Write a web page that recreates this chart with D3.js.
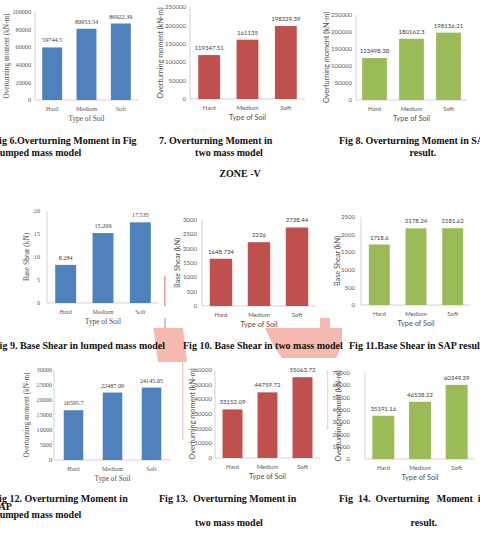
<!DOCTYPE html>
<html>
<head>
<meta charset="utf-8">
<script src="https://cdn.jsdelivr.net/npm/d3@7"></script>
<style>
  body { margin: 0; background: #fff; }
  svg { display: block; }
</style>
</head>
<body>
<svg id="page" width="480" height="533"></svg>
<script>
// categories shared by every chart
const soils = ['Hard', 'Medium', 'Soft']

// top row: overturning moment
const omLumpedIV = [59744.5, 80953.54, 86922.39]
const omTwoMassIV = [119347.51, 161135, 198229.39]
const omSapIV = [123498.38, 180162.3, 198136.21]

// zone V: base shear and overturning moment
const bsLumped = [8.284, 15.209, 17.535]
const bsTwoMass = [1648.734, 2226, 2738.44]
const bsSap = [1718.6, 2178.24, 2181.62]
const omLumpedV = [16595.7, 22487.09, 24145.05]
const omTwoMassV = [33152.09, 44759.72, 55063.72]
const omSapV = [35191.16, 46538.22, 60349.39]

const blue = '#4f81bd'
const red = '#c0504d'
const green = '#9bbb59'
const serif = '"Liberation Serif", "Times New Roman", serif'
const sans = 'Lato, "Open Sans", sans-serif'

const svg = d3.select('#page')

// faint pink watermark, mostly hidden behind the chart areas
const wm = svg.append('g').attr('fill', '#f5b9b0')
wm.append('path').attr('d', 'M152,318 L182,318 L187,362 L158,362 Z')
wm.append('path').attr('d', 'M262,318 L340,318 Q346,340 336,358 L282,358 Q268,340 262,318 Z')
wm.append('rect').attr('x', 164).attr('y', 276).attr('width', 1.5).attr('height', 30).attr('fill', '#ec9b92')
wm.append('rect').attr('x', 182).attr('y', 362).attr('width', 1.5).attr('height', 78).attr('fill', '#f5d2c3')
wm.append('rect').attr('x', 327).attr('y', 370).attr('width', 1.2).attr('height', 60).attr('fill', '#f5d2c3')

// chart boxes: x0 = value axis, x1 = end of category axis, yTop = max tick, yBot = zero
const panels = [
  { values: omLumpedIV, max: 100000, step: 20000, color: blue, font: serif, title: 'Overturning moment (kN-m)',
    x0: 35, x1: 138, yTop: 12, yBot: 100, pad: 0.42, tickX: 31, titleX: 6, bg: [14, 2, 150, 124] },
  { values: omTwoMassIV, max: 250000, step: 50000, color: red, font: sans, title: 'Overturning moment (kN-m)',
    x0: 190, x1: 305, yTop: 7, yBot: 99, pad: 0.43, tickX: 186, titleX: 160, bg: [152, 0, 160, 124] },
  { values: omSapIV, max: 250000, step: 50000, color: green, font: sans, title: 'Overturning moment (kN-m)',
    x0: 356, x1: 467, yTop: 15, yBot: 100, pad: 0.33, tickX: 352, titleX: 326, bg: [318, 6, 160, 120] },
  { values: bsLumped, max: 20, step: 5, color: blue, font: serif, title: 'Base Shear (kN)',
    x0: 47, x1: 159, yTop: 211, yBot: 303, pad: 0.44, tickX: 40, titleX: 26, bg: [18, 202, 146, 126] },
  { values: bsTwoMass, max: 3000, step: 500, color: red, font: sans, title: 'Base Shear (kN)',
    x0: 202, x1: 316, yTop: 220, yBot: 306, pad: 0.41, tickX: 197, titleX: 177, bg: [166, 208, 154, 120] },
  { values: bsSap, max: 2500, step: 500, color: green, font: sans, title: 'Base Shear (kN)',
    x0: 361, x1: 471, yTop: 217, yBot: 305, pad: 0.43, tickX: 355, titleX: 337, bg: [330, 206, 146, 122] },
  { values: omLumpedV, max: 30000, step: 5000, color: blue, font: serif, title: 'Overturning moment (kN-m)',
    x0: 54, x1: 171, yTop: 370, yBot: 460, pad: 0.5, tickX: 52, titleX: 26, bg: [20, 362, 160, 122] },
  { values: omTwoMassV, max: 60000, step: 10000, color: red, font: sans, title: 'Overturning moment (kN-m)',
    x0: 215, x1: 320, yTop: 370, yBot: 458, pad: 0.43, tickX: 212, titleX: 192, bg: [186, 362, 138, 122] },
  { values: omSapV, max: 70000, step: 10000, color: green, font: sans, title: 'Overturning moment (kN-m)',
    x0: 365, x1: 475, yTop: 373, yBot: 459, pad: 0.4, tickX: 350, titleX: 338, bg: [330, 362, 148, 122] },
]

panels.forEach(p => {
  const g = svg.append('g')

  // white chart area hides the watermark
  g.append('rect')
    .attr('x', p.bg[0]).attr('y', p.bg[1])
    .attr('width', p.bg[2]).attr('height', p.bg[3])
    .attr('fill', '#fff')

  const x = d3.scaleBand().domain(soils).range([p.x0, p.x1]).paddingInner(p.pad).paddingOuter(p.pad / 2)
  const y = d3.scaleLinear().domain([0, p.max]).range([p.yBot, p.yTop])
  const ticks = d3.range(0, p.max + p.step / 2, p.step)
  const fs = p.font === serif ? 6.2 : 6

  // tick labels
  g.selectAll('text.tick')
    .data(ticks)
    .join('text')
    .attr('class', 'tick')
    .attr('x', p.tickX)
    .attr('y', d => y(d))
    .attr('dy', '0.35em')
    .attr('text-anchor', 'end')
    .attr('font-family', p.font)
    .attr('font-size', fs)
    .attr('fill', '#595959')
    .text(d => d)

  // axis lines
  g.append('line')
    .attr('x1', p.x0).attr('x2', p.x0)
    .attr('y1', p.yTop).attr('y2', p.yBot)
    .attr('stroke', '#c8c8c8').attr('stroke-width', 0.8)
  g.append('line')
    .attr('x1', p.x0).attr('x2', p.x1)
    .attr('y1', p.yBot).attr('y2', p.yBot)
    .attr('stroke', '#c8c8c8').attr('stroke-width', 0.8)

  // bars
  g.selectAll('rect.bar')
    .data(p.values)
    .join('rect')
    .attr('class', 'bar')
    .attr('x', (d, i) => x(soils[i]))
    .attr('y', d => y(d))
    .attr('width', x.bandwidth())
    .attr('height', d => p.yBot - y(d))
    .attr('fill', p.color)

  // value labels
  g.selectAll('text.val')
    .data(p.values)
    .join('text')
    .attr('class', 'val')
    .attr('x', (d, i) => x(soils[i]) + x.bandwidth() / 2)
    .attr('y', d => y(d) - 5)
    .attr('text-anchor', 'middle')
    .attr('font-family', p.font)
    .attr('font-size', fs)
    .attr('fill', '#404040')
    .text(d => d)

  // category labels
  g.selectAll('text.cat')
    .data(soils)
    .join('text')
    .attr('class', 'cat')
    .attr('x', d => x(d) + x.bandwidth() / 2)
    .attr('y', p.yBot + 9)
    .attr('dy', '0.35em')
    .attr('text-anchor', 'middle')
    .attr('font-family', p.font)
    .attr('font-size', fs)
    .attr('fill', '#595959')
    .text(d => d)

  g.append('text')
    .attr('x', (p.x0 + p.x1) / 2)
    .attr('y', p.yBot + 18.5)
    .attr('dy', '0.35em')
    .attr('text-anchor', 'middle')
    .attr('font-family', p.font)
    .attr('font-size', 7.3)
    .attr('fill', '#505050')
    .text('Type of Soil')

  g.append('text')
    .attr('transform', `translate(${p.titleX},${(p.yTop + p.yBot) / 2}) rotate(-90)`)
    .attr('dy', '0.35em')
    .attr('text-anchor', 'middle')
    .attr('font-family', p.font)
    .attr('font-size', 7.3)
    .attr('fill', '#505050')
    .text(p.title)
})

// figure captions (some run off the page edges, as in the scan)
const captions = [
  { t: 'Fig 6.Overturning Moment in Fig', x: -7, y: 140, a: 'start' },
  { t: 'Lumped mass model', x: -7, y: 152, a: 'start' },
  { t: '7. Overturning Moment in', x: 159, y: 140, a: 'start' },
  { t: 'two mass model', x: 229, y: 152, a: 'middle' },
  { t: 'Fig 8. Overturning Moment in SAP', x: 339, y: 140, a: 'start' },
  { t: 'result.', x: 423, y: 152, a: 'middle' },
  { t: 'ZONE -V', x: 240, y: 173, a: 'middle' },
  { t: 'Fig 9. Base Shear in lumped mass model', x: 165, y: 345, a: 'end' },
  { t: 'Fig 10. Base Shear in two mass model', x: 183, y: 345, a: 'start' },
  { t: 'Fig 11.Base Shear in SAP result.', x: 349, y: 345, a: 'start' },
  { t: 'Fig 12. Overturning Moment in', x: -7, y: 498, a: 'start' },
  { t: 'SAP', x: -7, y: 506, a: 'start' },
  { t: 'Lumped mass model', x: -7, y: 514, a: 'start' },
  { t: 'Fig 13.  Overturning Moment in', x: 159, y: 498, a: 'start' },
  { t: 'two mass model', x: 229, y: 522, a: 'middle' },
  { t: 'Fig  14.  Overturning   Moment  in', x: 339, y: 498, a: 'start' },
  { t: 'result.', x: 424, y: 522, a: 'middle' },
]

svg.append('g')
  .selectAll('text')
  .data(captions)
  .join('text')
  .attr('x', d => d.x)
  .attr('y', d => d.y)
  .attr('dy', '0.35em')
  .attr('text-anchor', d => d.a)
  .attr('font-family', serif)
  .attr('font-weight', 'bold')
  .attr('font-size', 10)
  .attr('fill', '#111')
  .style('white-space', 'pre')
  .text(d => d.t)
</script>
</body>
</html>
